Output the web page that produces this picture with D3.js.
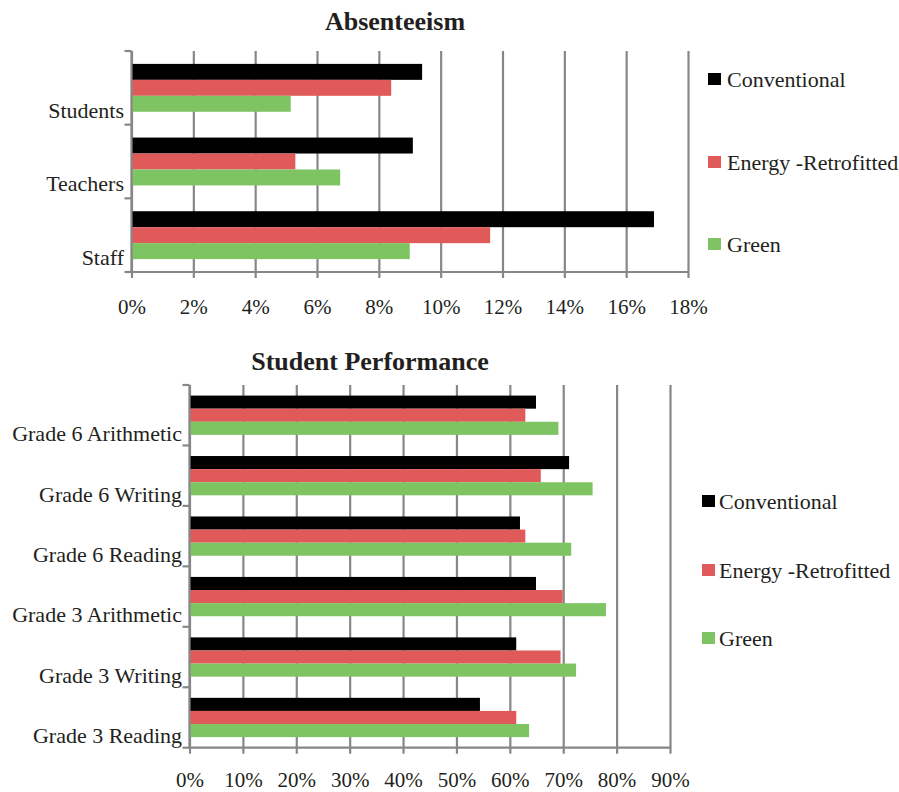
<!DOCTYPE html>
<html>
<head>
<meta charset="utf-8">
<script src="https://cdn.jsdelivr.net/npm/d3@7"></script>
<style>
  html, body { margin: 0; padding: 0; background: #fff; }
  svg { display: block; }
  text { font-family: "Liberation Serif", "Times New Roman", serif; fill: #231f20; }
</style>
</head>
<body>
<svg id="chart" width="899" height="792"></svg>
<script>
// Series shared by both panels
const seriesNames = ["Conventional", "Energy-Retrofitted", "Green"];
const seriesLabels = ["Conventional", "Energy -Retrofitted", "Green"];
const seriesColors = ["#000000", "#e15a5a", "#7fc462"];

// Absenteeism rates (%), categories listed top to bottom
const absenteeismCategories = ["Students", "Teachers", "Staff"];
const absConventional = [9.4, 9.1, 16.9];
const absEnergyRetrofitted = [8.4, 5.3, 11.6];
const absGreen = [5.15, 6.75, 9.0];
const absenteeismTicks = [0, 2, 4, 6, 8, 10, 12, 14, 16, 18];

// Student performance (% proficient), categories listed top to bottom
const performanceCategories = ["Grade 6 Arithmetic", "Grade 6 Writing", "Grade 6 Reading",
                               "Grade 3 Arithmetic", "Grade 3 Writing", "Grade 3 Reading"];
const perfConventional = [64.9, 71.1, 61.9, 64.9, 61.2, 54.4];
const perfEnergyRetrofitted = [62.9, 65.8, 62.9, 69.9, 69.5, 61.2];
const perfGreen = [69.1, 75.5, 71.5, 78.0, 72.4, 63.6];
const performanceTicks = [0, 10, 20, 30, 40, 50, 60, 70, 80, 90];

const svg = d3.select("#chart");
const gridColor = "#87878a";

function drawPanel(cfg) {
  const { title, titleX, titleY, categories, series, ticks, tickLabelOffset,
          left, right, top, bottom, labelRight, legendX, legendTextX, legendYs } = cfg;

  const g = svg.append("g");

  const x = d3.scaleLinear().domain([ticks[0], ticks[ticks.length - 1]]).range([left, right]);
  const y0 = d3.scaleBand().domain(categories).range([top, bottom]).padding(0);
  const bw = y0.bandwidth();
  const y1 = d3.scaleBand().domain(seriesNames).range([bw * 0.175, bw * 0.825]).padding(0);

  // Title
  g.append("text")
    .attr("x", titleX).attr("y", titleY)
    .attr("text-anchor", "middle")
    .style("font-weight", "bold")
    .style("font-size", "26px")
    .text(title);

  // Value axis with full-height gridlines
  const xAxis = d3.axisBottom(x)
    .tickValues(ticks)
    .tickFormat(d => d + "%")
    .tickSizeOuter(0);
  const ax = g.append("g")
    .attr("transform", `translate(0,${bottom})`)
    .call(xAxis);
  ax.attr("font-family", null);
  ax.select(".domain").attr("stroke", gridColor).attr("stroke-width", 2.2)
    .attr("d", `M${left},0H${right}`);
  ax.selectAll(".tick line")
    .attr("stroke", gridColor).attr("stroke-width", 2.2)
    .attr("y1", 6).attr("y2", top - bottom);
  ax.selectAll(".tick text")
    .attr("y", tickLabelOffset).attr("dy", null)
    .style("font-size", "21px")
    .attr("fill", "#231f20");

  // Bars
  const rows = categories.map((c, i) => ({ cat: c, vals: series.map(s => s[i]) }));
  const grp = g.selectAll(".grp").data(rows).join("g")
    .attr("transform", d => `translate(0,${y0(d.cat)})`);
  grp.selectAll("rect")
    .data(d => d.vals.map((v, k) => ({ name: seriesNames[k], v, k })))
    .join("rect")
    .attr("x", x(0))
    .attr("y", d => y1(d.name))
    .attr("width", d => x(d.v) - x(0))
    .attr("height", y1.bandwidth())
    .attr("fill", d => seriesColors[d.k]);

  // Category axis line with boundary ticks
  g.append("line")
    .attr("x1", left).attr("x2", left)
    .attr("y1", top).attr("y2", bottom)
    .attr("stroke", gridColor).attr("stroke-width", 2.2);
  const bounds = categories.map(c => y0(c)).concat([bottom]);
  g.selectAll(".ytick").data(bounds).join("line")
    .attr("x1", left - 7).attr("x2", left)
    .attr("y1", d => d).attr("y2", d => d)
    .attr("stroke", gridColor).attr("stroke-width", 2.2);

  // Category labels
  g.selectAll(".ylab").data(categories).join("text")
    .attr("x", labelRight)
    .attr("y", d => y0(d) + bw * 0.8)
    .attr("dy", "0.35em")
    .attr("text-anchor", "end")
    .style("font-size", "22px")
    .text(d => d);

  // Legend
  const lg = g.selectAll(".leg").data(seriesNames).join("g")
    .attr("transform", (d, i) => `translate(0,${legendYs[i]})`);
  lg.append("rect")
    .attr("x", legendX).attr("y", -6)
    .attr("width", 13).attr("height", 12)
    .attr("fill", (d, i) => seriesColors[i]);
  lg.append("text")
    .attr("x", legendTextX).attr("y", 0)
    .attr("dy", "0.35em")
    .style("font-size", "22px")
    .text((d, i) => seriesLabels[i]);
}

drawPanel({
  title: "Absenteeism", titleX: 395, titleY: 30,
  categories: absenteeismCategories,
  series: [absConventional, absEnergyRetrofitted, absGreen],
  ticks: absenteeismTicks, tickLabelOffset: 42,
  left: 131.5, right: 688, top: 51, bottom: 272,
  labelRight: 124,
  legendX: 708, legendTextX: 727, legendYs: [79, 162, 244]
});

drawPanel({
  title: "Student Performance", titleX: 370, titleY: 370,
  categories: performanceCategories,
  series: [perfConventional, perfEnergyRetrofitted, perfGreen],
  ticks: performanceTicks, tickLabelOffset: 39,
  left: 189.5, right: 670, top: 385, bottom: 747.7,
  labelRight: 182,
  legendX: 702, legendTextX: 719, legendYs: [501, 570, 638]
});
</script>
</body>
</html>
